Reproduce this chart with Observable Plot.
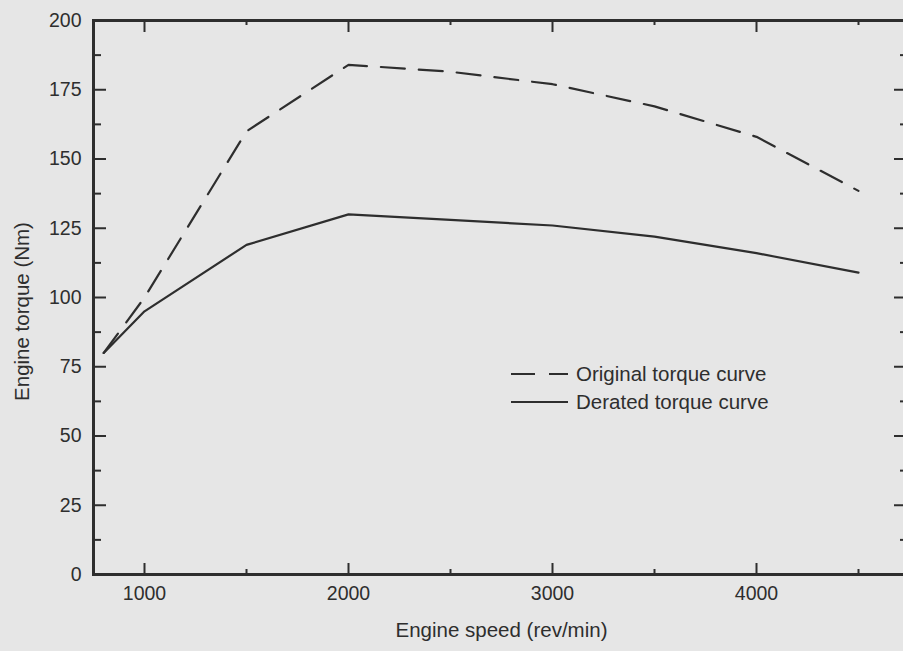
<!DOCTYPE html>
<html>
<head>
<meta charset="utf-8">
<script src="https://cdn.jsdelivr.net/npm/d3@7"></script>
<script src="https://cdn.jsdelivr.net/npm/@observablehq/plot@0.6"></script>
<style>
  html, body { margin: 0; padding: 0; background: #e6e6e6; }
  #wrap { position: relative; width: 903px; height: 651px; overflow: hidden; background: #e6e6e6;
          font-family: "Liberation Sans", Arial, Helvetica, sans-serif; color: #2e2e2e; }
  #chart { position: absolute; left: 0; top: 0; }
</style>
</head>
<body>
<div id="wrap"><div id="chart"></div></div>
<script>
// ---- data ----
const speed = [800, 1000, 1500, 2000, 2500, 3000, 3500, 4000, 4500];
const originalTorque = [80, 100, 160, 184, 181.5, 177, 169, 158, 138.5];
const deratedTorque = [80, 95, 119, 130, 128, 126, 122, 116, 109];
const seriesNames = ["Original torque curve", "Derated torque curve"];
const xTickLabels = [1000, 2000, 3000, 4000];
const xMinorTicks = [1500, 2500, 3500, 4500];
const yTickLabels = [0, 25, 50, 75, 100, 125, 150, 175, 200];
const yMinorTicks = [12.5, 37.5, 62.5, 87.5, 112.5, 137.5, 162.5, 187.5];
const xLabel = "Engine speed (rev/min)";
const yLabel = "Engine torque (Nm)";

const original = speed.map((s, i) => ({speed: s, torque: originalTorque[i]}));
const derated = speed.map((s, i) => ({speed: s, torque: deratedTorque[i]}));

// ---- layout ----
const W = 903, H = 651, mL = 93, mR = -6, mT = 20, mB = 77;
const plotW = W - mL - mR, plotH = H - mT - mB;
const ink = "#2e2e2e";
const font = "Liberation Sans, Arial, Helvetica, sans-serif";

const chart = Plot.plot({
  width: W, height: H,
  marginLeft: mL, marginRight: mR, marginTop: mT, marginBottom: mB,
  style: {background: "transparent", fontFamily: font, fontSize: "19.5px", color: ink, overflow: "visible"},
  x: {domain: [750, 4750]},
  y: {domain: [0, 200]},
  marks: [
    Plot.axisX({ticks: xTickLabels, tickSize: 0, tickPadding: 12, tickFormat: d => String(d), label: null, fontSize: 19.5}),
    Plot.axisY({ticks: yTickLabels, tickSize: 0, tickPadding: 12, tickFormat: d => String(d), label: null, fontSize: 19.5}),
    // bottom ticks (inward)
    Plot.tickX(xTickLabels, {x: d => d, insetTop: plotH - 11, stroke: ink, strokeWidth: 2}),
    Plot.tickX(xMinorTicks, {x: d => d, insetTop: plotH - 5, stroke: ink, strokeWidth: 2}),
    // top ticks (inward)
    Plot.tickX(xTickLabels, {x: d => d, insetBottom: plotH - 12, stroke: ink, strokeWidth: 2}),
    Plot.tickX(xMinorTicks, {x: d => d, insetBottom: plotH - 5, stroke: ink, strokeWidth: 2}),
    // left ticks (inward)
    Plot.tickY(yTickLabels, {y: d => d, insetRight: plotW - 13, stroke: ink, strokeWidth: 2}),
    Plot.tickY(yMinorTicks, {y: d => d, insetRight: plotW - 8, stroke: ink, strokeWidth: 2}),
    // right ticks (inward)
    Plot.tickY(yTickLabels, {y: d => d, insetLeft: plotW - 15, stroke: ink, strokeWidth: 2}),
    Plot.tickY(yMinorTicks, {y: d => d, insetLeft: plotW - 9, stroke: ink, strokeWidth: 2}),
    Plot.frame({stroke: ink, strokeWidth: 3}),
    Plot.line(original, {x: "speed", y: "torque", stroke: ink, strokeWidth: 2.2, strokeDasharray: "24 14"}),
    Plot.line(derated, {x: "speed", y: "torque", stroke: ink, strokeWidth: 2.2}),
    Plot.text([xLabel], {text: d => d, frameAnchor: "bottom", dy: 62, fontSize: 20.5, fill: ink}),
    Plot.text([yLabel], {text: d => d, frameAnchor: "left", textAnchor: "middle", rotate: -90, dx: -71, dy: 14, fontSize: 20.5, fill: ink})
  ]
});
document.getElementById("chart").appendChild(chart);

// ---- legend ----
const legend = d3.select("#wrap").append("svg")
  .attr("id", "legend").attr("width", 300).attr("height", 60)
  .style("position", "absolute").style("left", "505px").style("top", "358px")
  .style("font-family", font).style("font-size", "20.5px");
const dashes = ["24 14", null];
seriesNames.forEach((name, i) => {
  const g = legend.append("g").attr("transform", `translate(0, ${16 + i * 28})`);
  g.append("line").attr("x1", 6).attr("x2", 63).attr("y1", 0).attr("y2", 0)
    .attr("stroke", ink).attr("stroke-width", 2.2)
    .attr("stroke-dasharray", dashes[i]);
  g.append("text").attr("x", 71).attr("y", 0).attr("dy", "0.35em")
    .attr("fill", ink).text(name);
});
</script>
</body>
</html>
